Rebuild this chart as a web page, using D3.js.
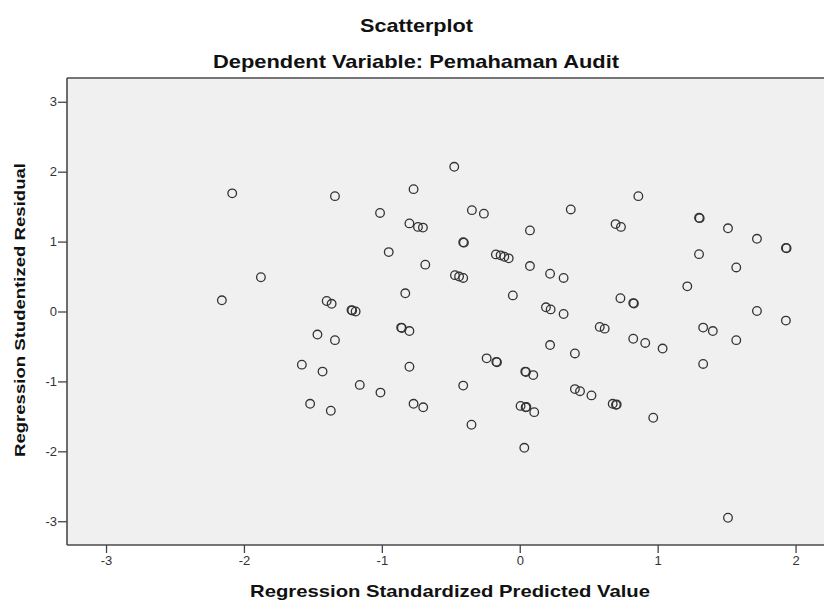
<!DOCTYPE html>
<html>
<head>
<meta charset="utf-8">
<script src="https://cdn.jsdelivr.net/npm/d3@7"></script>
<style>
  body { margin: 0; background: #fff; }
  svg { display: block; }
  .lbl { font-family: "Liberation Sans", Arial, sans-serif; font-weight: bold; fill: #111; }
</style>
</head>
<body>
<svg id="chart" width="824" height="600"></svg>
<script>
// Regression Standardized Predicted Value
var predicted = [
  -2.16, -2.085, -1.877, -1.34, -1.013, -0.77, -0.475, -0.347, -0.26, -0.80,
  -0.738, -0.702, -0.41, -0.405, -0.95, -0.685, -0.47, -0.44, -0.41, -1.40,
  -1.364, -1.22, -1.215, -1.19, -0.83, -0.86, -0.855, -0.80, -1.467, -1.34,
  -1.58, -1.43, -0.80, -1.16, -1.01, -0.41, -0.24, -0.17, -0.165, -1.52,
  -1.37, -0.77, -0.70, -0.35, 0.37, 0.86, 0.074, 0.695, 0.734, 1.30,
  1.305, 1.51, 1.72, -0.173, -0.139, -0.112, -0.08, 0.074, 0.22, 0.318,
  1.30, 1.57, 1.215, -0.05, 0.19, 0.224, 0.318, 0.73, 0.823, 0.828,
  1.72, 0.58, 0.616, 0.823, 0.91, 1.036, 1.33, 1.40, 1.57, 0.22,
  0.04, 0.045, 0.098, 0.40, 0.40, 0.437, 0.52, 0.674, 0.698, 0.703,
  0.006, 0.043, 0.048, 0.105, 0.968, 0.033, 1.33, 1.93, 1.935, 1.93, 1.51
];
// Regression Studentized Residual
var residual = [
  0.16, 1.69, 0.49, 1.65, 1.41, 1.75, 2.07, 1.45, 1.40, 1.26,
  1.21, 1.20, 0.99, 0.985, 0.85, 0.67, 0.52, 0.50, 0.48, 0.15,
  0.11, 0.02, 0.015, 0.0, 0.26, -0.23, -0.235, -0.28, -0.33, -0.41,
  -0.76, -0.86, -0.79, -1.05, -1.16, -1.06, -0.67, -0.72, -0.725, -1.32,
  -1.42, -1.32, -1.37, -1.62, 1.46, 1.65, 1.16, 1.25, 1.21, 1.34,
  1.335, 1.19, 1.04, 0.817, 0.803, 0.783, 0.76, 0.65, 0.54, 0.48,
  0.82, 0.63, 0.36, 0.23, 0.06, 0.03, -0.036, 0.19, 0.12, 0.115,
  0.007, -0.22, -0.245, -0.39, -0.45, -0.53, -0.23, -0.28, -0.41, -0.48,
  -0.86, -0.865, -0.91, -0.60, -1.11, -1.14, -1.20, -1.32, -1.335, -1.33,
  -1.35, -1.37, -1.365, -1.44, -1.52, -1.95, -0.75, 0.91, 0.905, -0.13, -2.95
];
var xTicks = [-3, -2, -1, 0, 1, 2];
var yTicks = [-3, -2, -1, 0, 1, 2, 3];

var svg = d3.select('#chart'),
    plotLeft = 67, plotRight = 835, plotTop = 78, plotBottom = 545;

var x = d3.scaleLinear()
      .domain([-3.283, 2.286])
      .range([plotLeft, plotRight]),
    y = d3.scaleLinear()
      .domain([-3.34, 3.34])
      .range([plotBottom, plotTop]);

var tickFmt = function(d) { return String(d); };

// plot background
svg.append('rect')
    .attr('x', plotLeft)
    .attr('y', plotTop)
    .attr('width', plotRight - plotLeft)
    .attr('height', plotBottom - plotTop)
    .attr('fill', '#f0f0f0');

var gx = svg.append('g')
    .attr('transform', 'translate(0,' + plotBottom + ')')
    .call(d3.axisBottom(x).tickValues(xTicks).tickSize(8).tickPadding(3).tickFormat(tickFmt));

var gy = svg.append('g')
    .attr('transform', 'translate(' + plotLeft + ',0)')
    .call(d3.axisLeft(y).tickValues(yTicks).tickSize(9).tickPadding(1).tickFormat(tickFmt));

[gx, gy].forEach(function(g) {
  g.select('.domain').remove();
  g.selectAll('.tick line').attr('stroke', '#444').attr('stroke-width', 1.3);
  g.selectAll('.tick text')
      .attr('font-family', '"Liberation Sans", Arial, sans-serif')
      .attr('font-size', 13)
      .attr('fill', '#333');
});

// frame: left, top, bottom (right edge runs off the page)
var frame = [
  [[plotLeft, plotTop], [plotLeft, plotBottom]],
  [[plotLeft, plotTop], [plotRight, plotTop]],
  [[plotLeft, plotBottom], [plotRight, plotBottom]]
];
for (var i = 0; i < frame.length; i++) {
  svg.append('path')
      .attr('d', d3.line()(frame[i]))
      .attr('stroke', '#4a4a4a')
      .attr('stroke-width', 1.6)
      .attr('fill', 'none');
}

svg.append('g')
  .selectAll('circle')
  .data(predicted)
  .enter().append('circle')
    .attr('cx', function(d) { return x(d); })
    .attr('cy', function(d, i) { return y(residual[i]); })
    .attr('r', 4.3)
    .attr('fill', 'none')
    .attr('stroke', '#333')
    .attr('stroke-width', 1.3);

// titles
svg.append('text')
    .attr('class', 'lbl')
    .attr('x', 416.5).attr('y', 32)
    .attr('text-anchor', 'middle')
    .attr('font-size', 18.5)
    .attr('textLength', 113).attr('lengthAdjust', 'spacingAndGlyphs')
    .text('Scatterplot');

svg.append('text')
    .attr('class', 'lbl')
    .attr('x', 416).attr('y', 68)
    .attr('text-anchor', 'middle')
    .attr('font-size', 18.5)
    .attr('textLength', 406).attr('lengthAdjust', 'spacingAndGlyphs')
    .text('Dependent Variable: Pemahaman Audit');

svg.append('text')
    .attr('class', 'lbl')
    .attr('x', 450).attr('y', 597)
    .attr('text-anchor', 'middle')
    .attr('font-size', 17)
    .attr('textLength', 400).attr('lengthAdjust', 'spacingAndGlyphs')
    .text('Regression Standardized Predicted Value');

svg.append('text')
    .attr('class', 'lbl')
    .attr('transform', 'translate(25,310) rotate(-90)')
    .attr('text-anchor', 'middle')
    .attr('font-size', 15.5)
    .attr('textLength', 294).attr('lengthAdjust', 'spacingAndGlyphs')
    .text('Regression Studentized Residual');
</script>
</body>
</html>
